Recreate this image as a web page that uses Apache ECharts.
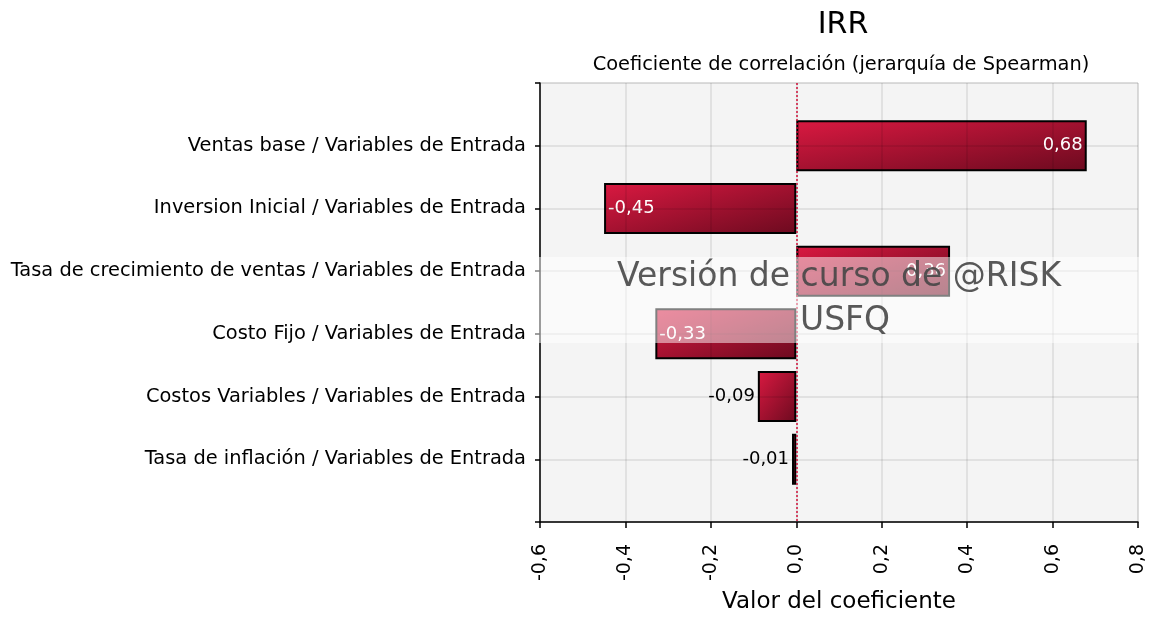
<!DOCTYPE html>
<html><head><meta charset="utf-8">
<script src="https://cdn.jsdelivr.net/npm/echarts@6/dist/echarts.min.js"></script>
<style>html,body{margin:0;padding:0;background:#fff}#c{width:1151px;height:617px}</style>
</head><body><div id="c"></div>
<script>
const categories = ['Ventas base / Variables de Entrada','Inversion Inicial / Variables de Entrada','Tasa de crecimiento de ventas / Variables de Entrada','Costo Fijo / Variables de Entrada','Costos Variables / Variables de Entrada','Tasa de inflación / Variables de Entrada'];
const values = [0.68, -0.45, 0.36, -0.33, -0.09, -0.01];
const xTicks = {min: -0.6, max: 0.8, interval: 0.2};

const FONT = "Tahoma, 'DejaVu Sans', sans-serif";
const cats = [''].concat(categories, ['']);
const GRID = {left:540, right:13, top:83, bottom:95};
const plotW = 1151 - GRID.left - GRID.right;
const BAR_H = 51;
// diagonal gradient in normalized bar space (isolines along the bar's diagonal)
function grad(v){
  const w = Math.max(2, Math.abs(v) * plotW / (xTicks.max - xTicks.min));
  const h = BAR_H;
  const k = 2 / (1/(w*w) + 1/(h*h));
  return {type:'linear', x:0, y:0, x2: k/(w*w), y2: k/(h*h),
    colorStops:[{offset:0,color:'#da1941'},{offset:1,color:'#6c0a1f'}]};
}
const data = ['-'].concat(values.map(v => {
  const small = Math.abs(v) < 0.15;
  return {
    value: v,
    itemStyle: {color: grad(v), borderColor:'#000', borderWidth: 2},
    label: {
      show: true,
      position: small ? 'left' : (v > 0 ? 'insideRight' : 'insideLeft'),
      color: small ? '#000' : '#fff',
      distance: small ? 3 : 4,
      formatter: () => v.toFixed(2).replace('.', ',')
    }
  };
}), ['-']);

const chart = echarts.init(document.getElementById('c'));
chart.setOption({
  animation: false,
  title: [
    {text:'IRR', left: 838, top: 5, textAlign:'center', textStyle:{fontFamily:FONT, fontSize:30, fontWeight:'normal', color:'#000'}},
    {text:'Coeficiente de correlación (jerarquía de Spearman)', left: 836, top: 50, textAlign:'center', textStyle:{fontFamily:FONT, fontSize:19.4, fontWeight:'normal', color:'#000'}}
  ],
  grid: Object.assign({show:true, backgroundColor:'#f4f4f4', borderColor:'#dcdcdc', borderWidth:1, outerBoundsMode:'none', containLabel:false}, GRID),
  xAxis: {
    type:'value', min:xTicks.min, max:xTicks.max, interval:xTicks.interval, z:5,
    name:'Valor del coeficiente', nameLocation:'middle', nameGap:69,
    nameTextStyle:{fontFamily:FONT, fontSize:23, color:'#000'},
    axisLine:{show:true, onZero:false, lineStyle:{color:'#000', width:1.5}},
    axisTick:{show:true, length:6, lineStyle:{color:'#000', width:1.5}},
    axisLabel:{rotate:90, margin:22, fontFamily:FONT, fontSize:19, color:'#000',
      formatter: v => (Math.abs(v) < 1e-9 ? 0 : v).toFixed(1).replace('.', ',')},
    splitLine:{show:true, lineStyle:{color:'rgba(0,0,0,0.1)', width:1.5}}
  },
  yAxis: {
    type:'category', data:cats, inverse:true, boundaryGap:false, z:5,
    axisLine:{show:true, onZero:false, lineStyle:{color:'#000', width:1.5}},
    axisTick:{show:true, length:5, lineStyle:{color:'#000', width:1.5}},
    axisLabel:{fontFamily:FONT, fontSize:19.4, color:'#000', margin:14},
    splitLine:{show:true, lineStyle:{color:'rgba(0,0,0,0.1)', width:1.5}}
  },
  series: [{
    type:'bar', data:data, barWidth:BAR_H,
    label:{fontFamily:FONT, fontSize:18},
    markLine:{silent:true, symbol:'none', label:{show:false},
      lineStyle:{color:'#d0103a', type:[2,2], width:1.5},
      data:[{xAxis:0}]}
  }],
  graphic: [
    {type:'rect', left:530, top:257, shape:{width:610, height:86}, style:{fill:'rgba(255,255,255,0.5)'}, z:100},
    {type:'text', left:617, top:261, style:{text:'Versión de curso de @RISK', fill:'rgba(70,70,70,0.9)', font:"33px "+FONT}, z:101},
    {type:'text', left:800, top:305, style:{text:'USFQ', fill:'rgba(70,70,70,0.9)', font:"33px "+FONT}, z:101}
  ]
});
</script></body></html>
